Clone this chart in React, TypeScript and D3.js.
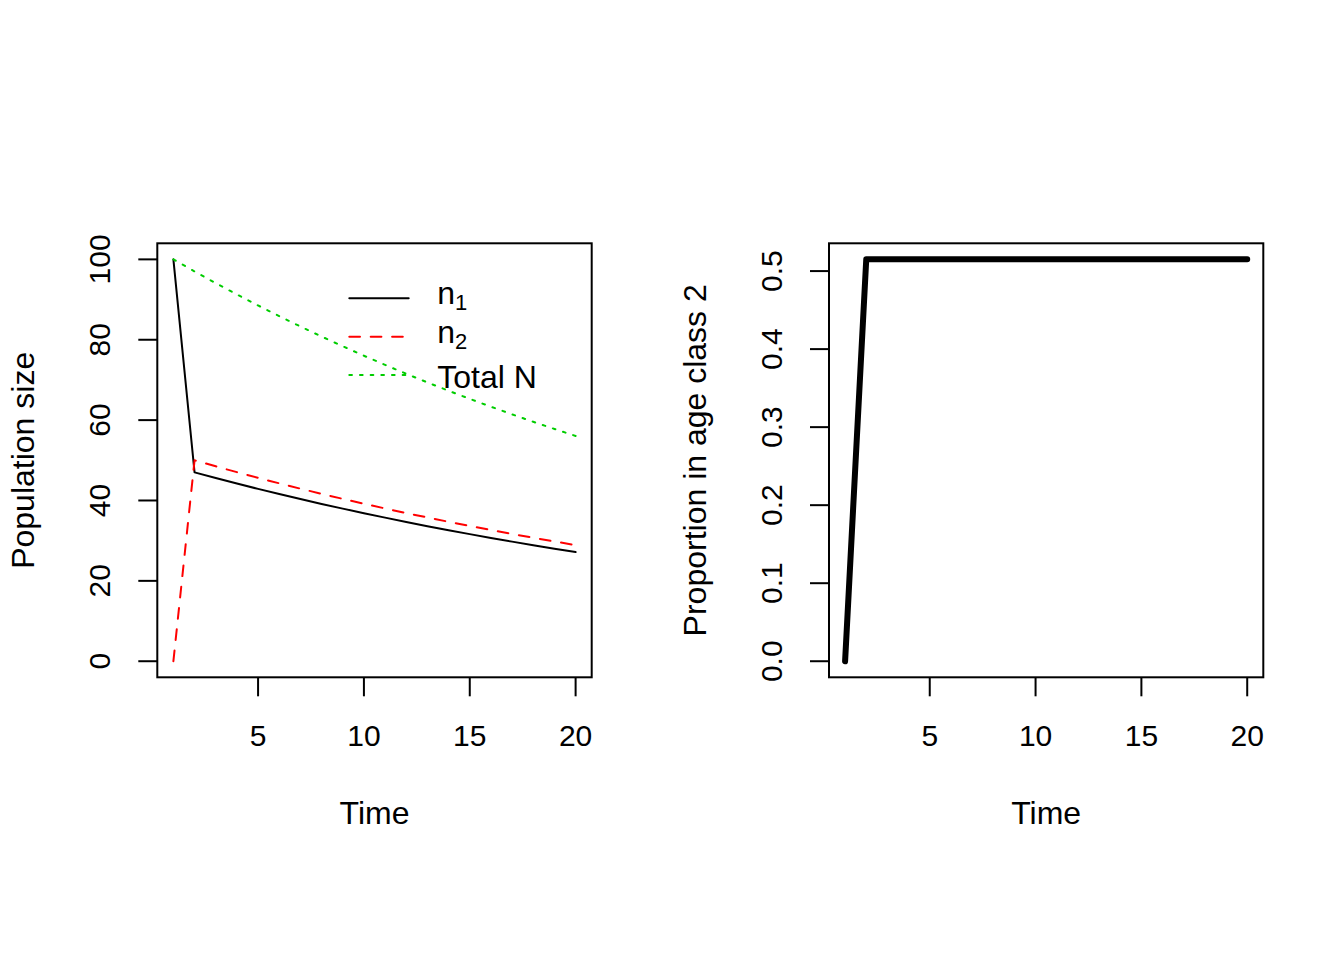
import React from "react";
import * as d3 from "d3";

// Data
const time: number[] = [1, 2, 3, 4, 5, 6, 7, 8, 9, 10, 11, 12, 13, 14, 15, 16, 17, 18, 19, 20];
const n1: number[] = [100, 47.0, 45.59, 44.22, 42.89, 41.6, 40.36, 39.15, 37.98, 36.83, 35.73, 34.66, 33.61, 32.61, 31.63, 30.68, 29.76, 28.87, 28.0, 27.16];
const n2: number[] = [0, 50.0, 48.5, 47.05, 45.64, 44.27, 42.94, 41.65, 40.4, 39.19, 38.01, 36.87, 35.77, 34.69, 33.65, 32.65, 31.67, 30.71, 29.8, 28.9];
const totalN: number[] = [100, 97.0, 94.09, 91.27, 88.53, 85.87, 83.3, 80.8, 78.38, 76.02, 73.74, 71.53, 69.38, 67.3, 65.28, 63.33, 61.43, 59.58, 57.8, 56.06];
const propClass2: number[] = [0, 0.515, 0.515, 0.515, 0.515, 0.515, 0.515, 0.515, 0.515, 0.515, 0.515, 0.515, 0.515, 0.515, 0.515, 0.515, 0.515, 0.515, 0.515, 0.515];

const xTicks: number[] = [5, 10, 15, 20];
const yTicksLeft: number[] = [0, 20, 40, 60, 80, 100];
const yTicksRight: number[] = [0, 0.1, 0.2, 0.3, 0.4, 0.5];

const legendLabels = [
  { main: "n", sub: "1", color: "#000000", dash: "none" },
  { main: "n", sub: "2", color: "#FF0000", dash: "10.7 10.7" },
  { main: "Total N", sub: "", color: "#00CD00", dash: "2.67 8" },
];

const FONT = "'Liberation Sans', Arial, Helvetica, sans-serif";
const FS_TICK = 30;
const FS_TITLE = 32;

function expand(lo: number, hi: number): [number, number] {
  const d = (hi - lo) * 0.04;
  return [lo - d, hi + d];
}

type PanelProps = {
  left: number;
  right: number;
  top: number;
  bottom: number;
  yDomain: [number, number];
  yTicks: number[];
  yFmt: (v: number) => string;
  yLabel: string;
  children: (x: d3.ScaleLinear<number, number>, y: d3.ScaleLinear<number, number>) => React.ReactNode;
};

function Panel({ left, right, top, bottom, yDomain, yTicks, yFmt, yLabel, children }: PanelProps) {
  const x = d3.scaleLinear().domain(expand(d3.min(time)!, d3.max(time)!)).range([left, right]);
  const y = d3.scaleLinear().domain(expand(yDomain[0], yDomain[1])).range([bottom, top]);
  const tick = 19;
  const cx = (left + right) / 2;
  const cy = (top + bottom) / 2;
  return (
    <g>
      {children(x, y)}
      <rect x={left} y={top} width={right - left} height={bottom - top} fill="none" stroke="#000" strokeWidth={2} />
      {xTicks.map((t) => (
        <g key={"x" + t}>
          <line x1={x(t)} x2={x(t)} y1={bottom} y2={bottom + tick} stroke="#000" strokeWidth={2} />
          <text x={x(t)} y={746} textAnchor="middle" fontFamily={FONT} fontSize={FS_TICK}>
            {t}
          </text>
        </g>
      ))}
      {yTicks.map((t) => (
        <g key={"y" + t}>
          <line x1={left - tick} x2={left} y1={y(t)} y2={y(t)} stroke="#000" strokeWidth={2} />
          <text
            transform={`translate(${left - 47},${y(t)}) rotate(-90)`}
            textAnchor="middle"
            fontFamily={FONT}
            fontSize={FS_TICK}
          >
            {yFmt(t)}
          </text>
        </g>
      ))}
      <text x={cx} y={824} textAnchor="middle" fontFamily={FONT} fontSize={FS_TITLE}>
        Time
      </text>
      <text
        transform={`translate(${left - 123.5},${cy}) rotate(-90)`}
        textAnchor="middle"
        fontFamily={FONT}
        fontSize={FS_TITLE}
      >
        {yLabel}
      </text>
    </g>
  );
}

export default function App() {
  const top = 243.3;
  const bottom = 677.3;
  return (
    <svg
      width={1344}
      height={960}
      style={{ position: "absolute", left: 0, top: 0, background: "#fff" }}
    >
      <rect x={0} y={0} width={1344} height={960} fill="#fff" />
      <Panel
        left={157.3}
        right={591.7}
        top={top}
        bottom={bottom}
        yDomain={[0, 100]}
        yTicks={yTicksLeft}
        yFmt={(v) => String(v)}
        yLabel="Population size"
      >
        {(x, y) => {
          const line = d3
            .line<number>()
            .x((_, i) => x(time[i]))
            .y((d) => y(d));
          return (
            <g>
              <path d={line(n1)!} fill="none" stroke="#000" strokeWidth={2} strokeLinecap="round" strokeLinejoin="round" />
              <path d={line(n2)!} fill="none" stroke="#FF0000" strokeWidth={2} strokeDasharray="10.7 10.7" strokeLinecap="round" strokeLinejoin="round" />
              <path d={line(totalN)!} fill="none" stroke="#00CD00" strokeWidth={2} strokeDasharray="2.67 8" strokeLinecap="round" strokeLinejoin="round" />
              {legendLabels.map((l, i) => {
                const ly = [298.3, 336.7, 375][i];
                return (
                  <g key={i}>
                    <line
                      x1={349.3}
                      x2={408.7}
                      y1={ly}
                      y2={ly}
                      stroke={l.color}
                      strokeWidth={2}
                      strokeDasharray={l.dash}
                      strokeLinecap="round"
                    />
                    {l.sub ? (
                      <text x={437.3} y={ly + 6} fontFamily={FONT} fontSize={FS_TITLE}>
                        {l.main}
                        <tspan fontSize={22} dy={6}>
                          {l.sub}
                        </tspan>
                      </text>
                    ) : (
                      <text x={437.3} y={ly + 12.5} fontFamily={FONT} fontSize={FS_TITLE}>
                        {l.main}
                      </text>
                    )}
                  </g>
                );
              })}
            </g>
          );
        }}
      </Panel>
      <Panel
        left={829}
        right={1263.3}
        top={top}
        bottom={bottom}
        yDomain={[0, 0.515]}
        yTicks={yTicksRight}
        yFmt={(v) => d3.format(".1f")(v)}
        yLabel="Proportion in age class 2"
      >
        {(x, y) => {
          const line = d3
            .line<number>()
            .x((_, i) => x(time[i]))
            .y((d) => y(d));
          return (
            <path d={line(propClass2)!} fill="none" stroke="#000" strokeWidth={6} strokeLinecap="round" strokeLinejoin="round" />
          );
        }}
      </Panel>
    </svg>
  );
}
